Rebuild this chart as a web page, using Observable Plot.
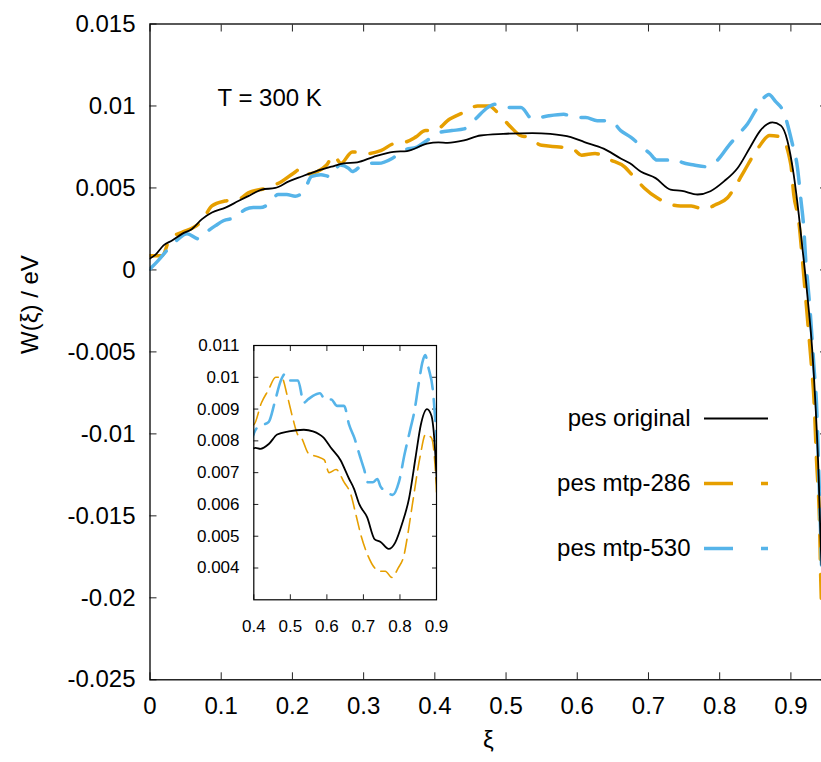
<!DOCTYPE html>
<html>
<head>
<meta charset="utf-8">
<script src="https://cdn.jsdelivr.net/npm/d3@7"></script>
<script src="https://cdn.jsdelivr.net/npm/@observablehq/plot@0.6"></script>
<style>
  html, body { margin: 0; padding: 0; overflow: hidden; background: #fff; }
  #wrap { position: relative; width: 821px; height: 762px; overflow: hidden; }
  #wrap > div { position: absolute; }
  #wrap svg { overflow: visible; max-width: none !important; }
</style>
</head>
<body>
<div id="wrap">
  <div id="main" style="left:0;top:0;width:830px;height:762px"></div>
  <div id="inset" style="left:190px;top:330px;width:260px;height:310px"></div>
  <div id="legend" style="left:460px;top:380px;width:320px;height:200px"></div>
</div>
<script>
// ---- data ----
const seriesNames = ["pes original", "pes mtp-286", "pes mtp-530"];
const seriesColors = ["#000000", "#E69F00", "#56B4E9"];

const originalX = [0.000,0.007,0.019,0.031,0.045,0.059,0.073,0.087,0.106,0.124,0.138,0.157,0.176,0.195,0.213,0.232,0.255,0.272,0.291,0.314,0.342,0.361,0.389,0.405,0.418,0.441,0.464,0.496,0.537,0.562,0.591,0.610,0.637,0.661,0.674,0.689,0.710,0.731,0.747,0.769,0.787,0.806,0.825,0.843,0.857,0.874,0.886,0.895,0.904,0.911,0.916,0.921,0.923,0.930,0.935,0.939,0.942,0.943];
const originalY = [0.0007,0.0009,0.0015,0.0018,0.0022,0.0025,0.0031,0.0035,0.0038,0.0042,0.0045,0.0049,0.0050,0.0054,0.0057,0.0060,0.0063,0.0065,0.00656,0.0069,0.0072,0.00725,0.0077,0.00778,0.00775,0.0079,0.0082,0.0083,0.00835,0.0083,0.0081,0.0078,0.0074,0.0068,0.0065,0.0060,0.0056,0.0049,0.00482,0.0046,0.0048,0.0054,0.0062,0.0075,0.0085,0.0090,0.0088,0.0079,0.0058,0.0034,0.0014,-0.0006,-0.0015,-0.0049,-0.0086,-0.0126,-0.0169,-0.0180];

const mtp286X = [0.000,0.017,0.028,0.045,0.0615,0.073,0.087,0.105,0.124,0.138,0.164,0.185,0.2015,0.213,0.220,0.235,0.248,0.258,0.268,0.284,0.305,0.324,0.342,0.359,0.373,0.387,0.399,0.421,0.440,0.460,0.476,0.492,0.507,0.520,0.530,0.550,0.575,0.593,0.606,0.625,0.647,0.666,0.679,0.694,0.712,0.731,0.745,0.760,0.778,0.795,0.811,0.822,0.834,0.855,0.870,0.886,0.900,0.904,0.911,0.916,0.919,0.9253,0.929,0.9323,0.936,0.9403,0.942,0.943];
const mtp286Y = [0.00087,0.00087,0.0019,0.0023,0.0026,0.0030,0.0039,0.0042,0.0043,0.0047,0.0050,0.0054,0.0059,0.0062,0.00585,0.0060,0.0064,0.0070,0.0065,0.0072,0.0071,0.00727,0.0077,0.0078,0.0081,0.0085,0.0085,0.0092,0.0096,0.0100,0.0100,0.0094,0.0087,0.0082,0.0081,0.0076,0.0075,0.0074,0.0070,0.0071,0.0067,0.0063,0.0057,0.0050,0.0044,0.0040,0.0039,0.0039,0.0037,0.0040,0.0044,0.0051,0.0060,0.0075,0.0082,0.0081,0.0064,0.0046,0.0030,0.0007,-0.0008,-0.0040,-0.0059,-0.0078,-0.0116,-0.0156,-0.0190,-0.0205];

const mtp530X = [0.000,0.012,0.026,0.040,0.052,0.068,0.082,0.092,0.103,0.120,0.134,0.145,0.155,0.166,0.180,0.192,0.204,0.216,0.227,0.240,0.253,0.267,0.279,0.284,0.295,0.305,0.321,0.340,0.356,0.375,0.389,0.408,0.424,0.441,0.457,0.474,0.485,0.497,0.509,0.521,0.537,0.548,0.560,0.581,0.595,0.612,0.628,0.647,0.661,0.675,0.691,0.702,0.712,0.726,0.738,0.747,0.764,0.780,0.797,0.813,0.829,0.839,0.850,0.862,0.869,0.878,0.890,0.902,0.909,0.914,0.918,0.921,0.923,0.927,0.930,0.933,0.936,0.939,0.9417,0.943];
const mtp530Y = [0.00006,0.0006,0.0013,0.0019,0.0022,0.0019,0.0024,0.0027,0.0030,0.0032,0.0037,0.0038,0.0038,0.0040,0.0046,0.0046,0.0045,0.0048,0.0057,0.0058,0.0057,0.0064,0.0062,0.0060,0.0063,0.0065,0.0065,0.0068,0.0073,0.0075,0.0079,0.0084,0.0085,0.0086,0.0092,0.0099,0.0101,0.0099,0.0099,0.0099,0.0092,0.0093,0.0094,0.0095,0.0093,0.0093,0.0091,0.0091,0.0085,0.0081,0.0075,0.0071,0.0067,0.0067,0.0068,0.00656,0.0064,0.0063,0.0067,0.0076,0.0084,0.0089,0.0097,0.0105,0.0107,0.0103,0.0096,0.0077,0.0063,0.0043,0.0026,0.0005,-0.0005,-0.0025,-0.0044,-0.0063,-0.0082,-0.0121,-0.0160,-0.0180];

const xTicks = [0,0.1,0.2,0.3,0.4,0.5,0.6,0.7,0.8,0.9];
const yTicks = [0.015,0.01,0.005,0,-0.005,-0.01,-0.015,-0.02,-0.025];
const insetXTicks = [0.4,0.5,0.6,0.7,0.8,0.9];
const insetYTicks = [0.004,0.005,0.006,0.007,0.008,0.009,0.01,0.011];
const annotation = "T = 300 K";
const xLabel = "ξ";
const yLabel = "W(ξ) / eV";

// ---- build tables ----
const toRows = (xs, ys) => xs.map((x, i) => ({x, y: ys[i]}));
const original = toRows(originalX, originalY);
const mtp286 = toRows(mtp286X, mtp286Y);
const mtp530 = toRows(mtp530X, mtp530Y);
const fmt = d => String(+d.toFixed(4));
const FONT = "'Liberation Sans', Arial, Helvetica, sans-serif";

function place(id, svg) {
  svg.style.maxWidth = "none";
  document.getElementById(id).appendChild(svg);
}

// ---- main chart ----
const main = Plot.plot({
  width: 830, height: 762,
  marginLeft: 149.5, marginRight: 4, marginTop: 23.5, marginBottom: 82.7,
  style: {fontFamily: FONT, fontSize: "24px", color: "#000", background: "transparent", maxWidth: "none"},
  x: {domain: [0, 0.95]},
  y: {domain: [-0.025, 0.015]},
  marks: [
    Plot.axisX(xTicks, {anchor: "bottom", tickSize: -7, tickPadding: 24.4, tickFormat: fmt, fontSize: 24, label: null, stroke: "#222"}),
    Plot.axisX(xTicks, {anchor: "top", tickSize: -7, tickFormat: () => "", label: null, stroke: "#222"}),
    Plot.axisY(yTicks, {anchor: "left", tickSize: -7, tickPadding: 21.5, tickFormat: fmt, fontSize: 24, label: null, stroke: "#222"}),
    Plot.axisY(yTicks, {anchor: "right", tickSize: -7, tickFormat: () => "", label: null, stroke: "#222"}),
    Plot.line(mtp286, {x: "x", y: "y", stroke: seriesColors[1], strokeWidth: 3.5, strokeDasharray: "24,15", curve: "monotone-x", clip: true}),
    Plot.line(mtp530, {x: "x", y: "y", stroke: seriesColors[2], strokeWidth: 3.5, strokeDasharray: "24,15", curve: "monotone-x", clip: true}),
    Plot.line(original, {x: "x", y: "y", stroke: seriesColors[0], strokeWidth: 1.8, curve: "monotone-x", clip: true}),
    Plot.frame({stroke: "#000", strokeWidth: 1.3}),
    Plot.text([annotation], {frameAnchor: "top-left", dx: 67.5, dy: 65, textAnchor: "start", fontSize: 24, fill: "#000"}),
    Plot.text([yLabel], {frameAnchor: "left", dx: -119.5, dy: 2, rotate: -90, fontSize: 24, fill: "#000"}),
    Plot.text([xLabel], {frameAnchor: "bottom", dy: 68, fontSize: 24, fill: "#000"})
  ]
});
place("main", main);

// ---- inset ----
const inset = Plot.plot({
  width: 260, height: 310,
  marginLeft: 63.3, marginRight: 14, marginTop: 15, marginBottom: 40.7,
  style: {fontFamily: FONT, fontSize: "17px", color: "#000", background: "transparent", maxWidth: "none"},
  x: {domain: [0.4, 0.9]},
  y: {domain: [0.003, 0.011]},
  marks: [
    Plot.axisX(insetXTicks, {anchor: "bottom", tickSize: -5, tickPadding: 25.5, tickFormat: fmt, fontSize: 17, label: null, stroke: "#222"}),
    Plot.axisX(insetXTicks, {anchor: "top", tickSize: -5, tickFormat: () => "", label: null, stroke: "#222"}),
    Plot.axisY(insetYTicks, {anchor: "left", tickSize: -5, tickPadding: 19.3, tickFormat: fmt, fontSize: 17, label: null, stroke: "#222"}),
    Plot.axisY(insetYTicks, {anchor: "right", tickSize: -5, tickFormat: () => "", label: null, stroke: "#222"}),
    Plot.line(mtp286, {x: "x", y: "y", stroke: seriesColors[1], strokeWidth: 1.6, strokeDasharray: "14,7", curve: "monotone-x", clip: true}),
    Plot.line(mtp530, {x: "x", y: "y", stroke: seriesColors[2], strokeWidth: 2.6, strokeDasharray: "22,10", curve: "monotone-x", clip: true}),
    Plot.line(original, {x: "x", y: "y", stroke: seriesColors[0], strokeWidth: 1.8, curve: "monotone-x", clip: true}),
    Plot.frame({stroke: "#000", strokeWidth: 1.2})
  ]
});
place("inset", inset);

// ---- legend ----
const legendRows = seriesNames.map((name, i) => ({name, color: seriesColors[i]}));
const legend = Plot.plot({
  width: 320, height: 200,
  marginLeft: 244, marginRight: 12, marginTop: 37, marginBottom: 32,
  style: {fontFamily: FONT, fontSize: "24px", color: "#000", background: "transparent", maxWidth: "none"},
  x: {domain: [0, 1], axis: null},
  y: {type: "point", domain: seriesNames, padding: 0, axis: null},
  marks: [
    Plot.ruleY([legendRows[0]], {y: "name", x1: 0, x2: 1, stroke: seriesColors[0], strokeWidth: 1.8}),
    Plot.ruleY([legendRows[1]], {y: "name", x1: 0, x2: 1, stroke: seriesColors[1], strokeWidth: 3.5, strokeDasharray: "29,28"}),
    Plot.ruleY([legendRows[2]], {y: "name", x1: 0, x2: 1, stroke: seriesColors[2], strokeWidth: 3.5, strokeDasharray: "29,28"}),
    Plot.text(legendRows, {y: "name", x: 0, text: "name", textAnchor: "end", dx: -14, fontSize: 24, fill: "#000"})
  ]
});
place("legend", legend);
</script>
</body>
</html>
